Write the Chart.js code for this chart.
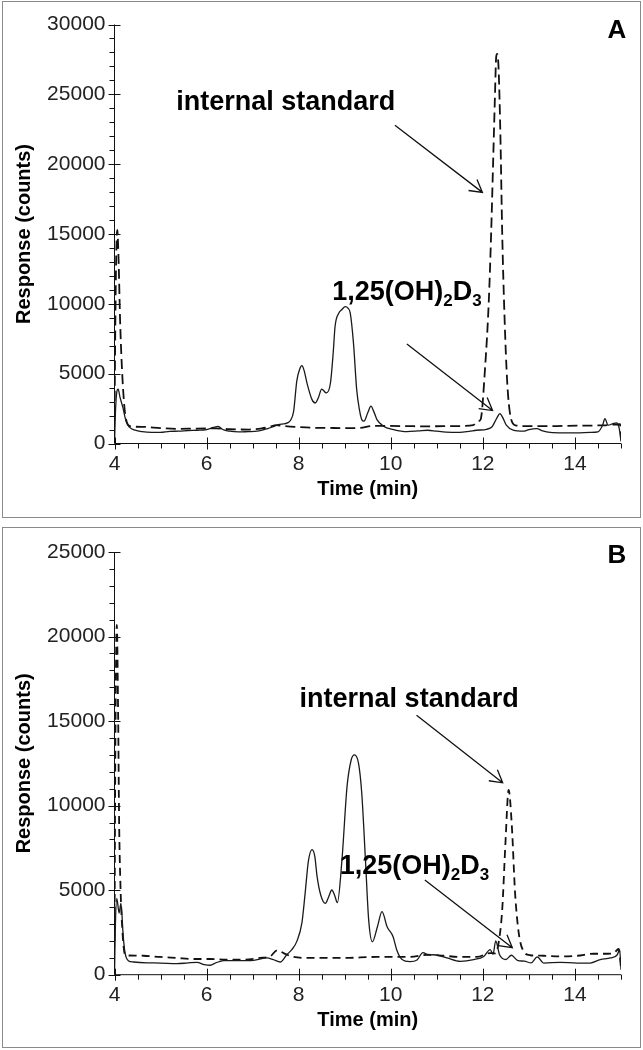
<!DOCTYPE html>
<html>
<head>
<meta charset="utf-8">
<script src="https://cdn.jsdelivr.net/npm/chart.js@4"></script>
<style>
  html, body { margin: 0; padding: 0; background: #fff; }
  body { width: 643px; height: 1050px; position: relative; overflow: hidden; }
  canvas { position: absolute; left: 0; }
  #chartA { top: 0; }
  #chartB { top: 520px; }
  .frame { position: absolute; border: 1px solid #8a8a8a; pointer-events: none; }
</style>
</head>
<body>
<canvas id="chartA" width="643" height="520"></canvas>
<canvas id="chartB" width="643" height="530"></canvas>
<div class="frame" style="left:2px;top:1px;width:637px;height:515px"></div>
<div class="frame" style="left:2px;top:527px;width:637px;height:519px"></div>

<script>
// --- DATA ---
// Panel A, analyte trace (solid)
const timeASolid = [
  4.00, 4.02, 4.05, 4.08, 4.12, 4.18, 4.25, 4.33, 4.45, 4.60,
  4.80, 5.00, 5.20, 5.40, 5.60, 5.80, 6.00, 6.15, 6.25, 6.35,
  6.50, 6.70, 6.90, 7.10, 7.30, 7.45, 7.56, 7.71, 7.82, 7.89,
  7.96, 8.02, 8.07, 8.12, 8.18, 8.29, 8.36, 8.43, 8.50, 8.60,
  8.69, 8.75, 8.79, 8.87, 8.94, 9.01, 9.07, 9.12, 9.19, 9.26,
  9.32, 9.37, 9.42, 9.50, 9.57, 9.63, 9.70, 9.84, 10.06, 10.35,
  10.60, 10.80, 11.00, 11.20, 11.50, 11.70, 11.86, 12.08, 12.20, 12.30,
  12.37, 12.44, 12.51, 12.66, 12.88, 13.00, 13.17, 13.30, 13.46, 13.75,
  14.04, 14.33, 14.50, 14.60, 14.65, 14.72, 14.83, 14.90, 14.96, 15.00,
];
const respASolid = [
  0, 2200, 3700, 3900, 3300, 2600, 1600, 1150, 950, 850,
  800, 800, 870, 880, 930, 950, 1000, 1150, 1230, 1000,
  880, 830, 850, 880, 1050, 1200, 1360, 1430, 1650, 2300,
  4500, 5300, 5570, 5200, 4330, 3140, 2900, 3300, 3900, 3620,
  4330, 6500, 8380, 9330, 9600, 9800, 9700, 9330, 7190, 3860,
  2400, 1710, 1600, 2200, 2670, 2300, 1710, 1240, 1000, 850,
  900, 950, 880, 820, 800, 870, 950, 1020, 1200, 1800,
  2140, 1800, 1310, 950, 880, 1000, 1070, 900, 790, 760,
  760, 790, 830, 1300, 1780, 1310, 1430, 1480, 1100, 150,
];
// Panel A, internal standard trace (dashed)
const timeADash = [
  4.00, 4.03, 4.06, 4.09, 4.12, 4.16, 4.22, 4.27, 4.33, 4.62,
  5.00, 5.34, 5.78, 6.21, 6.50, 6.93, 7.20, 7.37, 7.51, 7.70,
  7.95, 8.30, 8.60, 9.00, 9.33, 9.62, 9.90, 10.41, 10.80, 11.14,
  11.50, 11.79, 11.90, 11.95, 12.05, 12.13, 12.18, 12.22, 12.26, 12.29,
  12.31, 12.34, 12.38, 12.42, 12.47, 12.53, 12.60, 12.71, 13.02, 13.46,
  14.04, 14.62, 14.98, 15.00,
];
const respADash = [
  2000, 12000, 15300, 13000, 9000, 5500, 2430, 1500, 1240, 1190,
  1100, 1050, 1070, 1080, 1020, 1000, 1080, 1190, 1310, 1250,
  1190, 1130, 1120, 1100, 1120, 1260, 1260, 1240, 1230, 1240,
  1250, 1310, 1600, 1710, 5520, 10290, 15070, 19800, 24570, 27700,
  27900, 26950, 22200, 15070, 9100, 4330, 1950, 1300, 1240, 1240,
  1280, 1300, 1380, 400,
];
// Panel B, analyte trace (solid)
const timeBSolid = [
  4.00, 4.02, 4.05, 4.10, 4.14, 4.19, 4.23, 4.30, 4.41, 4.70,
  4.99, 5.35, 5.60, 5.79, 5.95, 6.08, 6.20, 6.37, 6.66, 7.02,
  7.31, 7.45, 7.60, 7.74, 7.85, 7.96, 8.07, 8.14, 8.21, 8.29,
  8.35, 8.40, 8.48, 8.58, 8.65, 8.72, 8.78, 8.84, 8.94, 9.05,
  9.14, 9.21, 9.30, 9.37, 9.45, 9.52, 9.60, 9.71, 9.81, 9.92,
  10.05, 10.13, 10.24, 10.42, 10.57, 10.70, 10.82, 10.93, 11.22, 11.51,
  11.80, 12.02, 12.16, 12.22, 12.28, 12.36, 12.50, 12.62, 12.75, 12.90,
  13.05, 13.18, 13.32, 13.68, 14.04, 14.33, 14.55, 14.77, 14.92, 14.97,
  15.00,
];
const respBSolid = [
  0, 3000, 4520, 3650, 4220, 2250, 1270, 830, 750, 700,
  690, 650, 700, 730, 600, 560, 700, 830, 830, 850,
  990, 890, 750, 1180, 1480, 1970, 3060, 4810, 6700, 7400,
  7000, 5800, 4700, 4220, 4600, 5010, 4700, 4260, 6790, 11120,
  12700, 13000, 12500, 10730, 6790, 3240, 1950, 2840, 3730, 2840,
  2250, 1460, 910, 770, 870, 1300, 1170, 1180, 990, 790,
  890, 1080, 1480, 1200, 2000, 1200, 900, 1150, 850, 800,
  700, 1050, 690, 730, 690, 690, 890, 990, 1180, 1480,
  300,
];
// Panel B, internal standard trace (dashed)
const timeBDash = [
  4.00, 4.02, 4.05, 4.08, 4.10, 4.13, 4.18, 4.23, 4.26, 4.63,
  4.99, 5.35, 5.71, 6.08, 6.44, 6.80, 7.16, 7.38, 7.53, 7.67,
  7.85, 8.25, 8.97, 9.70, 10.42, 10.79, 11.15, 11.51, 11.87, 12.16,
  12.27, 12.34, 12.42, 12.49, 12.56, 12.63, 12.70, 12.78, 12.89, 13.03,
  13.32, 13.68, 14.05, 14.41, 14.70, 14.84, 14.95, 15.00,
];
const respBDash = [
  2000, 14000, 20690, 15070, 9150, 5210, 2250, 1170, 1140, 1120,
  1050, 990, 930, 930, 890, 890, 990, 1080, 1440, 1280,
  1080, 990, 990, 1050, 1050, 1180, 1120, 1050, 1050, 1280,
  1260, 1860, 3830, 7770, 10930, 8760, 4820, 2450, 1360, 1150,
  1120, 1080, 1120, 1240, 1240, 1280, 1520, 400,
];

const timeMin = 4;
const timeMax = 15;
const yMaxA = 30000;
const yMaxB = 25000;
const xTitle = "Time (min)";
const yTitle = "Response (counts)";
const isLabel = "internal standard";
const analyteLabel = [["1,25(OH)", false], ["2", true], ["D", false], ["3", true]];

const FONT = "'Liberation Sans', Arial, sans-serif";

function toPoints(xs, ys) {
  return xs.map((x, i) => ({ x, y: ys[i] }));
}

// --- PLUGINS ---
// axis lines, Excel-style major/minor tick marks and the time labels
const axisTicks = {
  id: "axisTicks",
  afterDatasetsDraw(chart) {
    const { ctx, chartArea: a, scales: { x, y } } = chart;
    ctx.save();
    ctx.strokeStyle = "#111";
    ctx.lineWidth = 1;
    ctx.beginPath();
    ctx.moveTo(a.left, a.top);
    ctx.lineTo(a.left, a.bottom);
    ctx.lineTo(a.right, a.bottom);
    for (let v = 0; v <= y.max; v += 1000) {
      const py = Math.round(y.getPixelForValue(v)) + 0.5;
      const major = v % 5000 === 0;
      ctx.moveTo(a.left - (major ? 6 : 5), py);
      ctx.lineTo(a.left + (major ? 6 : 0), py);
    }
    for (let t = timeMin; t <= timeMax; t += 0.5) {
      const px = Math.round(x.getPixelForValue(t)) + 0.5;
      const major = t % 2 === 0;
      ctx.moveTo(px, a.bottom - (major ? 6 : 0));
      ctx.lineTo(px, a.bottom + (major ? 6 : 5));
    }
    ctx.stroke();

    ctx.fillStyle = "#222";
    ctx.font = `21px ${FONT}`;
    ctx.textAlign = "center";
    ctx.textBaseline = "middle";
    x.ticks.forEach((tk) => {
      ctx.fillText(String(tk.value), x.getPixelForValue(tk.value), a.bottom + 21);
    });
    ctx.restore();
  },
};

function drawArrow(ctx, x0, y0, x1, y1) {
  const ang = Math.atan2(y1 - y0, x1 - x0);
  const len = 14;
  ctx.beginPath();
  ctx.moveTo(x0, y0);
  ctx.lineTo(x1, y1);
  ctx.moveTo(x1 - len * Math.cos(ang - 0.52), y1 - len * Math.sin(ang - 0.52));
  ctx.lineTo(x1, y1);
  ctx.lineTo(x1 - len * Math.cos(ang + 0.52), y1 - len * Math.sin(ang + 0.52));
  ctx.stroke();
}

const annotations = {
  id: "annotations",
  afterDraw(chart, args, opts) {
    const { ctx, scales: { x, y } } = chart;
    ctx.save();
    ctx.fillStyle = "#000";
    ctx.strokeStyle = "#111";
    ctx.lineWidth = 1.3;

    ctx.font = `bold 26px ${FONT}`;
    ctx.textAlign = "center";
    ctx.textBaseline = "middle";
    ctx.fillText(opts.letter, opts.letterPos[0], opts.letterPos[1]);

    ctx.textAlign = "left";
    ctx.textBaseline = "alphabetic";
    ctx.font = `bold 27px ${FONT}`;
    ctx.fillText(isLabel, x.getPixelForValue(opts.isText[0]), y.getPixelForValue(opts.isText[1]));

    let px = x.getPixelForValue(opts.analyteText[0]);
    const py = y.getPixelForValue(opts.analyteText[1]);
    analyteLabel.forEach(([txt, sub]) => {
      ctx.font = sub ? `bold 17px ${FONT}` : `bold 27px ${FONT}`;
      ctx.fillText(txt, px, sub ? py + 6 : py);
      px += ctx.measureText(txt).width;
    });

    opts.arrows.forEach(([t0, r0, t1, r1]) => {
      drawArrow(ctx, x.getPixelForValue(t0), y.getPixelForValue(r0),
        x.getPixelForValue(t1), y.getPixelForValue(r1));
    });
    ctx.restore();
  },
};

// --- CHARTS ---
function buildChart(canvasId, panel) {
  const tickFont = { family: FONT, size: 21 };
  const titleFont = { family: FONT, size: 20, weight: "bold" };
  return new Chart(document.getElementById(canvasId), {
    type: "line",
    data: {
      datasets: [
        {
          label: "1,25(OH)2D3",
          data: toPoints(panel.solidT, panel.solidR),
          borderColor: "#1a1a1a",
          borderWidth: 1.3,
          pointRadius: 0,
          cubicInterpolationMode: "monotone",
        },
        {
          label: "internal standard",
          data: toPoints(panel.dashT, panel.dashR),
          borderColor: "#111",
          borderWidth: 1.8,
          borderDash: panel.dash,
          pointRadius: 0,
          cubicInterpolationMode: "monotone",
        },
      ],
    },
    options: {
      responsive: false,
      animation: false,
      layout: { padding: { left: 0, top: panel.padTop, right: 22, bottom: 0 } },
      plugins: {
        legend: { display: false },
        tooltip: { enabled: false },
        annotations: panel.notes,
      },
      scales: {
        x: {
          type: "linear",
          min: timeMin,
          max: timeMax,
          grid: { display: false, drawTicks: false },
          border: { display: false },
          // labels are drawn by the axisTicks plugin from these ticks
          ticks: { stepSize: 2, includeBounds: false, display: false },
          title: { display: true, text: xTitle, font: titleFont, color: "#000", padding: { top: 0, bottom: panel.xTitlePad } },
          afterFit: (s) => { s.height = panel.xHeight; },
        },
        y: {
          min: 0,
          max: panel.yMax,
          grid: { display: false, drawTicks: false },
          border: { display: false },
          ticks: { stepSize: 5000, padding: 9, font: tickFont, color: "#222", callback: (v) => String(v) },
          title: { display: true, text: yTitle, font: titleFont, color: "#000", padding: { top: 12, bottom: 0 } },
          afterFit: (s) => { s.width = 114.5; },
        },
      },
    },
    plugins: [axisTicks, annotations],
  });
}

buildChart("chartA", {
  solidT: timeASolid, solidR: respASolid,
  dashT: timeADash, dashR: respADash,
  dash: [10, 5],
  yMax: yMaxA,
  padTop: 24.5,
  xHeight: 76.5,
  xTitlePad: 19,
  notes: {
    letter: "A",
    letterPos: [617, 31],
    isText: [5.34, 23900],
    analyteText: [8.73, 10270],
    arrows: [
      [10.09, 22780, 11.99, 17980],
      [10.35, 7120, 12.21, 2360],
    ],
  },
});

buildChart("chartB", {
  solidT: timeBSolid, solidR: respBSolid,
  dashT: timeBDash, dashR: respBDash,
  dash: [8, 5],
  yMax: yMaxB,
  padTop: 32,
  xHeight: 75.3,
  xTitlePad: 18,
  notes: {
    letter: "B",
    letterPos: [617, 36],
    isText: [8.02, 15840],
    analyteText: [8.89, 5940],
    arrows: [
      [10.56, 15350, 12.43, 11350],
      [10.74, 5600, 12.64, 1600],
    ],
  },
});
</script>
</body>
</html>
